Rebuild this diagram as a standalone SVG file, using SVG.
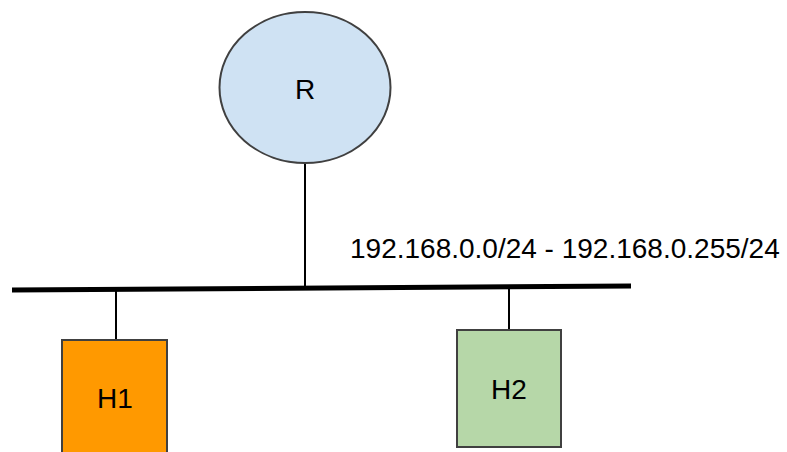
<svg xmlns="http://www.w3.org/2000/svg" width="787" height="452" viewBox="0 0 787 452">
<style>
.lbl{font-family:"Liberation Sans",Arial,sans-serif;font-size:28px;fill:#000}
.node{stroke:#404040;stroke-width:2}
.wire{stroke:#000;stroke-width:2;fill:none}
</style>
<rect width="787" height="452" fill="#fff"/>
<g id="connectors">
<line class="wire" x1="305" y1="163" x2="305" y2="289"/>
<line class="wire" x1="116" y1="290" x2="116" y2="340"/>
<line class="wire" x1="509" y1="287" x2="509" y2="330"/>
<line x1="12" y1="290" x2="631" y2="286" stroke="#000" stroke-width="5"/>
</g>
<g id="R">
<ellipse class="node" cx="305" cy="87.5" rx="85.5" ry="75.5" fill="#cfe2f3"/>
<text class="lbl" x="305" y="99" text-anchor="middle">R</text>
</g>
<g id="subnet">
<text class="lbl" x="350" y="258">192.168.0.0/24 - 192.168.0.255/24</text>
</g>
<g id="H1">
<rect class="node" x="62" y="340" width="105" height="125" fill="#ff9900"/>
<text class="lbl" x="115" y="408" text-anchor="middle">H1</text>
</g>
<g id="H2">
<rect class="node" x="457" y="330" width="104" height="117" fill="#b6d7a8"/>
<text class="lbl" x="509" y="399" text-anchor="middle">H2</text>
</g>
</svg>
